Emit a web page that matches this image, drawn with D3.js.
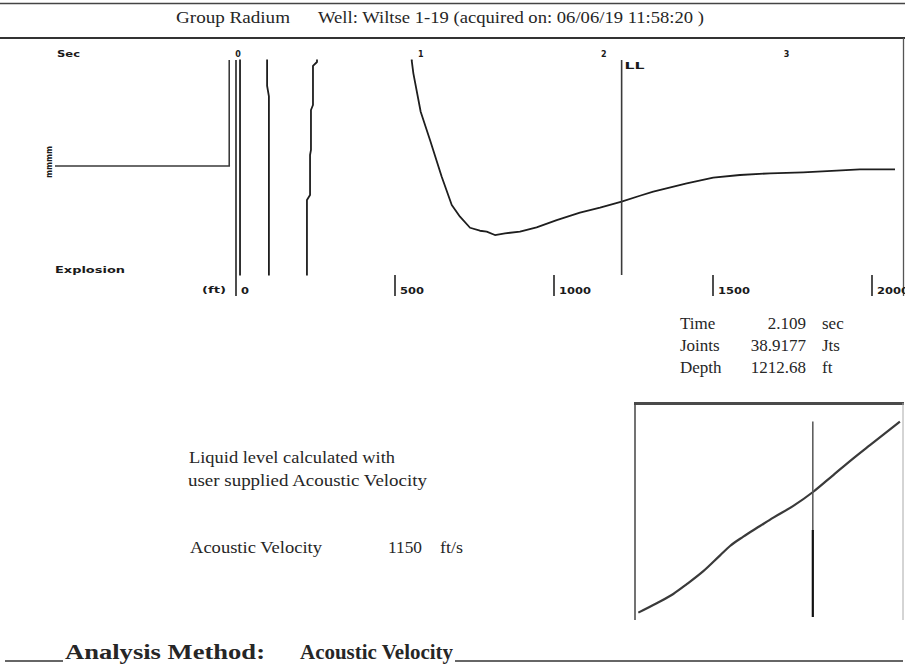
<!DOCTYPE html>
<html>
<head>
<meta charset="utf-8">
<script src="https://cdn.jsdelivr.net/npm/d3@7"></script>
<style>
  html, body { margin: 0; padding: 0; background: #fff; }
  svg { display: block; }
  .serif { font-family: "Liberation Serif", "Times New Roman", serif; fill: #262626; }
  .small { font-family: "DejaVu Sans", sans-serif; font-weight: bold; fill: #1a1a1a; }
</style>
</head>
<body>
<svg id="chart" width="905" height="667"></svg>
<script>
// ---------------- data ----------------
const wellTitleGroup = "Group Radium";
const wellTitleWell = "Well: Wiltse 1-19 (acquired on: 06/06/19 11:58:20 )";
const velocity = 1150;            // ft/s
const depthMax = 2000;            // ft
const timeTicks = [0, 1, 2, 3];
const depthTicks = [0, 500, 1000, 1500, 2000];
const llTime = 2.109;
const infoLabels = ["Time", "Joints", "Depth"];
const infoValues = ["2.109", "38.9177", "1212.68"];
const infoUnits = ["sec", "Jts", "ft"];

// explosion (trigger) signal, time in sec, amplitude in relative units
const explosionTime = [-0.990, -0.037, -0.037];
const explosionAmp  = [0.0, 0.0, 0.99];

// acoustic trace: off-scale values (+/-3) are clipped by the panel
const traceTime = [0.000, 0.022, 0.022, 0.170, 0.170, 0.180, 0.180, 0.388, 0.388, 0.405, 0.405, 0.410, 0.410, 0.421, 0.421, 0.443, 0.443, 0.955,
  0.961, 0.970, 1.010, 1.061, 1.125, 1.180, 1.225, 1.280, 1.334, 1.371, 1.416, 1.471, 1.553, 1.644, 1.754, 1.881, 1.991, 2.109,
  2.209, 2.282, 2.465, 2.610, 2.756, 2.920, 3.102, 3.285, 3.412, 3.604];
const traceAmp = [-3, -3, 3, 3, 0.75, 0.65, -3, -3, -0.318, -0.271, 0.103, 0.150, 0.523, 0.570, 0.935, 0.972, 3, 3,
  0.984, 0.866, 0.507, 0.243, -0.100, -0.364, -0.474, -0.577, -0.605, -0.614, -0.645, -0.629, -0.614, -0.573, -0.505, -0.436, -0.390, -0.332,
  -0.278, -0.240, -0.162, -0.109, -0.084, -0.068, -0.059, -0.044, -0.031, -0.031];

// inset: zoomed trace around the liquid level
const insetTimeDomain = [1.90, 2.215];
const insetTime = [1.9039, 1.9255, 1.9450, 1.9608, 1.9803, 2.0000, 2.0117, 2.0273, 2.0469, 2.0626, 2.0861, 2.1096, 2.1331, 2.1566, 2.1762, 2.2114];
const insetAmp  = [3.4, 7.7, 12.0, 16.5, 22.5, 29.8, 34.1, 38.4, 43.3, 47.2, 52.6, 59.1, 66.8, 74.5, 80.6, 91.4];

// ---------------- drawing ----------------
const svg = d3.select("#chart");

const xD = d3.scaleLinear().domain([0, depthMax]).range([236, 872]);
const xT = d3.scaleLinear().domain([0, depthMax / (velocity / 2)]).range([236, 872]);
const yA = d3.scaleLinear().domain([-1, 1]).range([273, 59]);

// header rules
svg.append("line").attr("x1", 0).attr("x2", 905).attr("y1", 3.5).attr("y2", 3.5)
  .attr("stroke", "#444").attr("stroke-width", 1.5);
svg.append("line").attr("x1", 0).attr("x2", 905).attr("y1", 38).attr("y2", 38)
  .attr("stroke", "#333").attr("stroke-width", 2.2);
svg.append("line").attr("x1", 903.5).attr("x2", 903.5).attr("y1", 38).attr("y2", 296)
  .attr("stroke", "#555").attr("stroke-width", 1.3);

svg.append("text").attr("class", "serif").attr("x", 176).attr("y", 23)
  .attr("font-size", 16).attr("textLength", 114).attr("lengthAdjust", "spacingAndGlyphs")
  .text(wellTitleGroup);
svg.append("text").attr("class", "serif").attr("x", 318).attr("y", 23)
  .attr("font-size", 16).attr("textLength", 386).attr("lengthAdjust", "spacingAndGlyphs")
  .text(wellTitleWell);

// small labels
svg.append("text").attr("class", "small").attr("x", 57).attr("y", 57).attr("font-size", 8)
  .attr("textLength", 23).attr("lengthAdjust", "spacingAndGlyphs").text("Sec");
svg.append("text").attr("class", "small").attr("x", 55).attr("y", 273).attr("font-size", 9)
  .attr("textLength", 70).attr("lengthAdjust", "spacingAndGlyphs").text("Explosion");
svg.append("text").attr("class", "small").attr("x", 202).attr("y", 293).attr("font-size", 9)
  .attr("textLength", 24).attr("lengthAdjust", "spacingAndGlyphs").text("(ft)");
svg.append("text").attr("class", "small").attr("font-size", 8)
  .attr("transform", "translate(52,178) rotate(-90)")
  .attr("textLength", 32).attr("lengthAdjust", "spacingAndGlyphs").text("mmmm");

// time labels (top)
svg.selectAll(".tlab").data(timeTicks).join("text")
  .attr("class", "small tlab").attr("font-size", 8).attr("text-anchor", "middle")
  .attr("x", d => xT(d) + 2).attr("y", 57).text(d => d);

// depth ticks (bottom)
svg.selectAll(".dtick").data(depthTicks).join("line")
  .attr("class", "dtick")
  .attr("x1", d => xD(d)).attr("x2", d => xD(d))
  .attr("y1", d => d === 0 ? 60 : 275).attr("y2", 296)
  .attr("stroke", "#222").attr("stroke-width", 1.6);
svg.selectAll(".dlab").data(depthTicks).join("text")
  .attr("class", "small dlab").attr("font-size", 8.5)
  .attr("x", d => xD(d) + 5).attr("y", 294)
  .attr("textLength", d => String(d).length * 8)
  .attr("lengthAdjust", "spacingAndGlyphs")
  .text(d => d);

// clip for the trace panel
svg.append("clipPath").attr("id", "panel")
  .append("rect").attr("x", 40).attr("y", 59.5).attr("width", 860).attr("height", 216);

const line = d3.line().x(d => xT(d[0])).y(d => yA(d[1]));

svg.append("path")
  .datum(d3.zip(explosionTime, explosionAmp))
  .attr("d", line).attr("fill", "none")
  .attr("stroke", "#3a3a3a").attr("stroke-width", 1.6)
  .attr("clip-path", "url(#panel)");

svg.append("path")
  .datum(d3.zip(traceTime, traceAmp))
  .attr("d", line).attr("fill", "none")
  .attr("stroke", "#1e1e1e").attr("stroke-width", 1.8).attr("stroke-linejoin", "round")
  .attr("clip-path", "url(#panel)");

// liquid level marker
svg.append("line").attr("x1", xT(llTime)).attr("x2", xT(llTime)).attr("y1", 60).attr("y2", 275)
  .attr("stroke", "#3a3a3a").attr("stroke-width", 1.6);
svg.append("text").attr("class", "small").attr("font-size", 8)
  .attr("x", xT(llTime) + 3).attr("y", 69)
  .attr("textLength", 20).attr("lengthAdjust", "spacingAndGlyphs").text("LL");

// info block
const infoY = [329, 351, 373];
infoLabels.forEach((t, i) => {
  svg.append("text").attr("class", "serif").attr("font-size", 17)
    .attr("x", 680).attr("y", infoY[i]).text(t);
  svg.append("text").attr("class", "serif").attr("font-size", 17).attr("text-anchor", "end")
    .attr("x", 806).attr("y", infoY[i]).text(infoValues[i]);
  svg.append("text").attr("class", "serif").attr("font-size", 17)
    .attr("x", 822).attr("y", infoY[i]).text(infoUnits[i]);
});

// middle notes
svg.append("text").attr("class", "serif").attr("font-size", 17)
  .attr("x", 189).attr("y", 463).attr("textLength", 206).attr("lengthAdjust", "spacingAndGlyphs")
  .text("Liquid level calculated with");
svg.append("text").attr("class", "serif").attr("font-size", 17)
  .attr("x", 188).attr("y", 486).attr("textLength", 239).attr("lengthAdjust", "spacingAndGlyphs")
  .text("user supplied Acoustic Velocity");
svg.append("text").attr("class", "serif").attr("font-size", 17)
  .attr("x", 190).attr("y", 553).attr("textLength", 132).attr("lengthAdjust", "spacingAndGlyphs")
  .text("Acoustic Velocity");
svg.append("text").attr("class", "serif").attr("font-size", 17)
  .attr("x", 388).attr("y", 553).attr("textLength", 34).attr("lengthAdjust", "spacingAndGlyphs")
  .text(String(velocity));
svg.append("text").attr("class", "serif").attr("font-size", 17)
  .attr("x", 440).attr("y", 553).attr("textLength", 23).attr("lengthAdjust", "spacingAndGlyphs")
  .text("ft/s");

// inset
const ix = d3.scaleLinear().domain(insetTimeDomain).range([635, 903]);
const iy = d3.scaleLinear().domain([0, 100]).range([620, 403]);
svg.append("line").attr("x1", 634).attr("x2", 904).attr("y1", 403.5).attr("y2", 403.5)
  .attr("stroke", "#4a4a4a").attr("stroke-width", 3);
svg.append("line").attr("x1", 635).attr("x2", 635).attr("y1", 403).attr("y2", 620)
  .attr("stroke", "#444").attr("stroke-width", 1.5);
svg.append("line").attr("x1", 903).attr("x2", 903).attr("y1", 403).attr("y2", 620)
  .attr("stroke", "#aaa").attr("stroke-width", 1);
svg.append("path")
  .datum(d3.zip(insetTime, insetAmp))
  .attr("d", d3.line().curve(d3.curveMonotoneX).x(d => ix(d[0])).y(d => iy(d[1])))
  .attr("fill", "none").attr("stroke", "#3a3a3a").attr("stroke-width", 2.2);
svg.append("line").attr("x1", ix(llTime)).attr("x2", ix(llTime)).attr("y1", 421.5).attr("y2", 531)
  .attr("stroke", "#555").attr("stroke-width", 1.5);
svg.append("line").attr("x1", ix(llTime)).attr("x2", ix(llTime)).attr("y1", 530).attr("y2", 617)
  .attr("stroke", "#111").attr("stroke-width", 2.2);

// footer
svg.append("line").attr("x1", 5).attr("x2", 63).attr("y1", 661).attr("y2", 661)
  .attr("stroke", "#333").attr("stroke-width", 1.5);
svg.append("line").attr("x1", 455).attr("x2", 903).attr("y1", 661).attr("y2", 661)
  .attr("stroke", "#333").attr("stroke-width", 1.5);
svg.append("text").attr("class", "serif").attr("font-size", 21).attr("font-weight", "bold")
  .attr("x", 65).attr("y", 659).attr("textLength", 200).attr("lengthAdjust", "spacingAndGlyphs")
  .text("Analysis Method:");
svg.append("text").attr("class", "serif").attr("font-size", 21).attr("font-weight", "bold")
  .attr("x", 300).attr("y", 659).attr("textLength", 153).attr("lengthAdjust", "spacingAndGlyphs")
  .text("Acoustic Velocity");
</script>
</body>
</html>
